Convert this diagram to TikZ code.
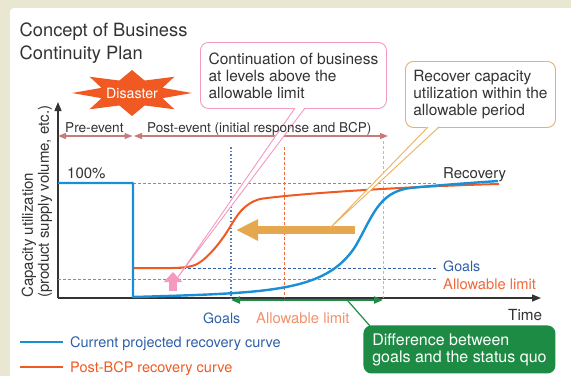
\documentclass[tikz,border=0pt]{standalone}
\usepackage{fontspec}
\setmainfont{TeX Gyre Heros}
\usetikzlibrary{arrows.meta,positioning}

\definecolor{beige}{HTML}{E9E7D1}
\definecolor{txtgray}{HTML}{333333}
\definecolor{curblue}{HTML}{1A8FD6}
\definecolor{bcporange}{HTML}{F05A22}
\definecolor{goalblue}{HTML}{2F5FAA}
\definecolor{limorange}{HTML}{F2693A}
\definecolor{paleorange}{HTML}{F4916A}
\definecolor{rose}{HTML}{C87B7B}
\definecolor{tanc}{HTML}{E6A84E}
\definecolor{tanline}{HTML}{EBB060}
\definecolor{pinkc}{HTML}{F49AC1}
\definecolor{greenc}{HTML}{1E8B45}

\begin{document}
\begin{tikzpicture}[x=1pt,y=-1pt,
    lbl/.style={inner sep=0pt,anchor=base west,text=txtgray},
    axis/.style={draw=txtgray,line width=1.4pt,-{Triangle[length=9pt,width=7pt]}},
    phase/.style={draw=rose,line width=1.2pt,{Triangle[length=8pt,width=6pt]}-{Triangle[length=8pt,width=6pt]}},
    dotline/.style={line width=1.1pt,dash pattern=on 1.5pt off 2pt},
    dashline/.style={line width=0.9pt,dash pattern=on 3pt off 2pt},
    callout/.style={draw,rounded corners=8pt,fill=white,line width=0.9pt,align=left,
      inner sep=0pt,text=txtgray,font=\fontsize{15.5}{17}\selectfont,anchor=north west}]

  \useasboundingbox (0,0) rectangle (571,376);
  \fill[beige] (0,0) rectangle (571,376);
  \fill[white,rounded corners=4pt] (10,8) rectangle (580,385);

  % title
  \node[lbl,font=\fontsize{18.3}{23}\selectfont] (title) at (19.5,36) {Concept of Business};
  \node[lbl,font=\fontsize{18.3}{23}\selectfont] (title2) at (19.5,59) {Continuity Plan};

  % disaster burst
  \coordinate (burst) at (132,93);
  \fill[bcporange] ([shift={(burst)}]0:60 and 23)
    \foreach \a in {0,45,...,315} {
      -- ([shift={(burst)}]\a+22.5:33 and 13.5) -- ([shift={(burst)}]\a+45:60 and 23)
    } -- cycle;
  \node[inner sep=0pt,text=white,font=\fontsize{14.2}{16}\selectfont] (disaster) at (burst) {Disaster};

  % axes
  \coordinate (o) at (58,298);
  \coordinate (ytip) at (58,102);
  \coordinate (xtip) at (541,298);
  \draw[axis] (o) -- (ytip);
  \draw[axis] (o) -- (xtip);
  \node[rotate=90,anchor=north west,align=left,inner sep=0pt,text=txtgray,
    font=\fontsize{15}{16}\selectfont] (ylab) at (21.5,298)
    {Capacity utilization\\(product supply volume, etc.)};
  \node[lbl,font=\fontsize{15.3}{17}\selectfont] (time) at (508,320) {Time};

  % phases
  \coordinate (pre0) at (58,136);
  \coordinate (pre1) at (132.5,136);
  \coordinate (post0) at (134,136);
  \coordinate (post1) at (388,136);
  \draw[phase] (pre0) -- (pre1);
  \draw[phase] (post0) -- (post1);

  % guide lines
  \coordinate (full0) at (133,183);
  \coordinate (full1) at (438,183);
  \coordinate (goal0) at (133,268);
  \coordinate (goal1) at (437,268);
  \coordinate (lim0) at (58,279);
  \coordinate (lim1) at (437,279);
  \draw[dashline,draw=limorange] (full0) -- (full1);
  \draw[dashline,draw=goalblue] (goal0) -- (goal1);
  \draw[dashline,draw=limorange] (lim0) -- (lim1);
  \coordinate (tgoal) at (231,147);
  \coordinate (tlim) at (284,147);
  \coordinate (trec) at (383,141);
  \draw[dotline,draw=goalblue!80] (tgoal) -- (tgoal |- o);
  \draw[dashline,draw=limorange] (tlim) -- (tlim |- o);
  \draw[dashline,draw=paleorange!80] (trec) -- (trec |- o);

  \node[lbl,font=\fontsize{15}{17}\selectfont] (full) at (67,178) {100\%};
  \node[lbl,font=\fontsize{15}{17}\selectfont] (recovery) at (443,178) {Recovery};
  \node[lbl,text=goalblue,font=\fontsize{14.2}{16}\selectfont] (goals) at (443,271) {Goals};
  \node[lbl,text=limorange,font=\fontsize{14.7}{16}\selectfont] (limit) at (443,289) {Allowable limit};
  \node[lbl,text=goalblue,font=\fontsize{14.2}{16}\selectfont] (goalsx) at (203,323) {Goals};
  \node[lbl,text=paleorange,font=\fontsize{14.8}{16}\selectfont] (limitx) at (256,323) {Allowable limit};

  % recovery curves
  \draw[bcporange,line width=2pt] (133,268) .. controls (165,268) and (185,269) .. (195,265)
    .. controls (207,260) and (222,240.5) .. (230,227)
    .. controls (237,215.6) and (243,204) .. (260,199)
    .. controls (300,193) and (420,186) .. (499,184);
  \draw[curblue,line width=2.4pt,line join=round] (58,183) -- (133,183) -- (133,297)
    .. controls (270,293) and (325,292) .. (355,247)
    .. controls (372,218) and (378,192) .. (410,188)
    .. controls (440,185) and (470,183) .. (498,181);

  % gap between goals and status quo
  \coordinate (gap0) at (231,300);
  \coordinate (gap1) at (383,300);
  \draw[greenc,line width=2pt,{Triangle[length=9pt,width=7pt]}-{Triangle[length=9pt,width=7pt]}] (gap0) -- (gap1);

  % big arrows
  \coordinate (fat0) at (355,230);
  \coordinate (fat1) at (236,230);
  \draw[tanc,line width=7.4pt,-{Triangle[length=22pt,width=20pt]}] (fat0) -- (fat1);
  \coordinate (up0) at (173,291);
  \coordinate (up1) at (173,272);
  \draw[pinkc,line width=8pt,-{Triangle[length=10pt,width=18pt]}] (up0) -- (up1);

  % callouts
  \node[callout,draw=pinkc,minimum width=186pt,minimum height=66pt] (cont) at (200,42)
    {Continuation of business\\at levels above the\\allowable limit};
  \coordinate (contL) at (295,108);
  \coordinate (contR) at (305,108);
  \coordinate (contTip) at (178,277);
  \fill[white] ([yshift=1pt]contL) -- (contTip) -- ([yshift=1pt]contR) -- cycle;
  \draw[pinkc,line width=0.9pt] (contL) -- (contTip) -- (contR);

  \node[callout,draw=tanline,minimum width=150pt,minimum height=66pt] (recov) at (405,61)
    {Recover capacity\\utilization within the\\allowable period};
  \coordinate (recovL) at (428,127);
  \coordinate (recovR) at (439,127);
  \coordinate (recovTip) at (330,228);
  \fill[white] ([yshift=1pt]recovL) -- (recovTip) -- ([yshift=1pt]recovR) -- cycle;
  \draw[tanline,line width=0.9pt] (recovL) -- (recovTip) -- (recovR);

  \node[callout,draw=none,fill=greenc,text=white,minimum width=192pt,minimum height=48pt,
    font=\fontsize{16}{17}\selectfont] (diff) at (363,325)
    {Difference between\\goals and the status quo};
  \coordinate (diffpt) at (348,301);
  \draw[greenc,line width=1.2pt] (diffpt) -- ([shift={(7pt,-1pt)}]diff.north west);

  % phase labels on top of the callout pointers
  \node[lbl,font=\fontsize{13.6}{16}\selectfont] (prelbl) at (65,132) {Pre-event};
  \node[lbl,font=\fontsize{13.5}{16}\selectfont] (postlbl) at (147,132) {Post-event (initial response and BCP)};

  % legend
  \coordinate (leg1a) at (20,342);
  \coordinate (leg1b) at (63,342);
  \coordinate (leg2a) at (20,367);
  \coordinate (leg2b) at (63,367);
  \draw[curblue,line width=2.4pt] (leg1a) -- (leg1b);
  \draw[bcporange,line width=2pt] (leg2a) -- (leg2b);
  \node[lbl,text=goalblue,font=\fontsize{14.5}{16}\selectfont] (leg1) at (70,347) {Current projected recovery curve};
  \node[lbl,text=bcporange,font=\fontsize{14.5}{16}\selectfont] (leg2) at (70,372) {Post-BCP recovery curve};
\end{tikzpicture}
\end{document}
